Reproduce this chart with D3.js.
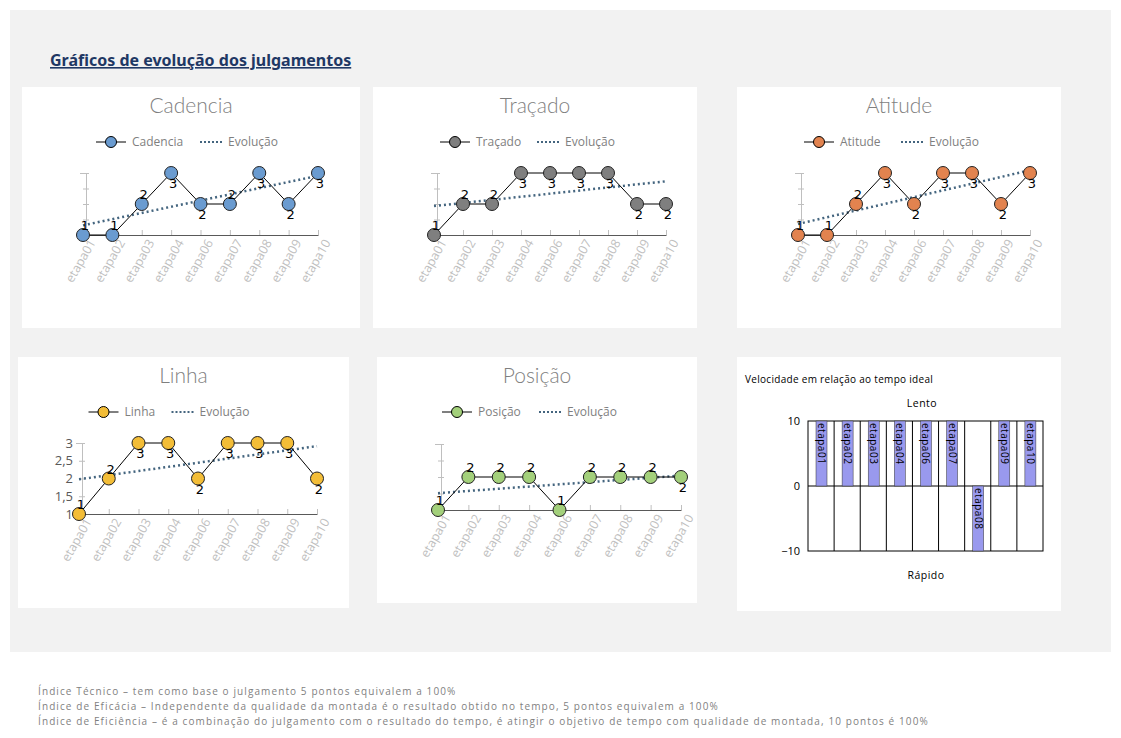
<!DOCTYPE html>
<html><head><meta charset="utf-8">
<script src="https://cdn.jsdelivr.net/npm/d3@7"></script>
<style>
body{margin:0;background:#fff;font-family:"DejaVu Sans",sans-serif;}
</style></head>
<body><svg id="vis" width="1121" height="738"></svg>
<script>
var etapas = ['etapa01','etapa02','etapa03','etapa04','etapa06','etapa07','etapa08','etapa09','etapa10'];
var cadencia = [1,1,2,3,2,2,3,2,3];
var tracado = [1,2,2,3,3,3,3,2,2];
var atitude = [1,1,2,3,2,3,3,2,3];
var linha = [1,2,3,3,2,3,3,3,2];
var posicao = [1,2,2,2,1,2,2,2,2];
var velocidade = [10,10,10,10,10,10,-10,10,10];
var linhaTicks = ['1','1,5','2','2,5','3'];
var footer = [
  'Índice Técnico – tem como base o julgamento 5 pontos equivalem a 100%',
  'Índice de Eficácia – Independente da qualidade da montada é o resultado obtido no tempo, 5 pontos equivalem a 100%',
  'Índice de Eficiência – é a combinação do julgamento com o resultado do tempo, é atingir o objetivo de tempo com qualidade de montada, 10 pontos é 100%'
];

var svg = d3.select('#vis');
svg.append('rect').attr('x',10).attr('y',10).attr('width',1101).attr('height',642).attr('fill','#f2f2f2');
svg.append('text').attr('x',50).attr('y',66).attr('font-size',16).attr('font-weight','bold')
  .attr('fill','#1f3864').attr('text-decoration','underline').attr('font-family','"Noto Sans",sans-serif')
  .text('Gráficos de evolução dos julgamentos');

// Line chart panel with trend line
function lineChart(box, title, data, color, x0, x1, yBase, yTop, showTicks) {
    var g = svg.append('g');
    g.append('rect').attr('x',box[0]).attr('y',box[1]).attr('width',box[2]).attr('height',box[3]).attr('fill','#fff');
    var cx = box[0] + box[2] / 2;
    g.append('text').attr('x',cx).attr('y',box[1]+26).attr('text-anchor','middle')
      .attr('font-size',21).attr('font-family','Lato').attr('font-weight',300).attr('fill','#7f7f7f').text(title);

    // legend
    var lg = g.append('g').attr('transform','translate(' + (cx - 95) + ',' + (box[1]+55) + ')');
    lg.append('line').attr('x1',0).attr('x2',30).attr('y1',0).attr('y2',0).attr('stroke','#000');
    lg.append('circle').attr('cx',15).attr('cy',0).attr('r',5.5).attr('fill',color).attr('stroke','#000');
    lg.append('text').attr('x',36).attr('y',4).attr('font-size',12).attr('fill','#7f7f7f').attr('font-family','"Open Sans"').text(title);
    var tw = title.length * 7 + 48;
    lg.append('line').attr('x1',tw).attr('x2',tw+22).attr('y1',0).attr('y2',0)
      .attr('stroke','#44657f').attr('stroke-width',2).attr('stroke-dasharray','2,2');
    lg.append('text').attr('x',tw+28).attr('y',4).attr('font-size',12).attr('fill','#7f7f7f').attr('font-family','"Open Sans"').text('Evolução');

    var x = d3.scalePoint().domain(etapas).range([x0, x1]);
    var y = d3.scaleLinear().domain([1, 3]).range([yBase, yTop]);

    // axes
    var yAxis = d3.axisLeft(y).tickValues([1,1.5,2,2.5,3]).tickSize(6)
        .tickFormat(function(d, i) { return showTicks ? linhaTicks[i] : ''; });
    var ya = g.append('g').attr('transform','translate(' + (x0 + 3) + ',0)').call(yAxis);
    ya.select('.domain').attr('stroke','#bfbfbf');
    ya.selectAll('line').attr('stroke','#bfbfbf').attr('transform','translate(3,0)');
    ya.selectAll('text').attr('font-size',13).attr('fill','#595959').attr('font-family','"Open Sans"');

    var xAxis = d3.axisBottom(x).tickSize(-5).tickSizeOuter(0);
    var xa = g.append('g').attr('transform','translate(0,' + yBase + ')').call(xAxis);
    xa.select('.domain').attr('stroke','#595959');
    xa.selectAll('line').attr('stroke','#bfbfbf');
    xa.selectAll('text').attr('font-size',12.5).attr('fill','#bfbfbf').attr('font-family','"Open Sans"')
      .attr('text-anchor','end').attr('dy',0).attr('transform','translate(10,6) rotate(-60)');

    // trend line from linear regression of the series
    var n = data.length, sx = 0, sy = 0, sxy = 0, sxx = 0;
    data.forEach(function(v, i) { sx += i; sy += v; sxy += i * v; sxx += i * i; });
    var b = (n * sxy - sx * sy) / (n * sxx - sx * sx), a = (sy - b * sx) / n;
    g.append('line').attr('x1',x(etapas[0])).attr('y1',y(a)).attr('x2',x(etapas[n-1])).attr('y2',y(a + b*(n-1)))
      .attr('stroke','#44657f').attr('stroke-width',2.5).attr('stroke-dasharray','2,3');

    var line = d3.line().x(function(d, i) { return x(etapas[i]); }).y(function(d) { return y(d); });
    g.append('path').datum(data).attr('d',line).attr('fill','none').attr('stroke','#000').attr('stroke-width',1);
    g.selectAll('circle.pt').data(data).enter().append('circle').attr('class','pt')
      .attr('cx',function(d, i) { return x(etapas[i]); }).attr('cy',y).attr('r',6.5)
      .attr('fill',color).attr('stroke','#222');
    g.selectAll('text.lbl').data(data).enter().append('text').attr('class','lbl')
      .attr('x',function(d, i) { return x(etapas[i]) + 2; })
      .attr('y',function(d, i) {
          var prev = i > 0 ? data[i-1] : 0;
          var below = d === 3 || (d > 1 && (prev > d || (i === n - 1 && prev >= d)));
          return below ? y(d) + 15 : y(d) - 5;
      })
      .attr('text-anchor','middle').attr('font-size',13).attr('fill','#000').text(function(d) { return d; });
}

lineChart([22,87,338,241], 'Cadencia', cadencia, '#6a9bd0', 83, 318, 235, 173, false);
lineChart([373,87,324,241], 'Traçado', tracado, '#7f7f7f', 434, 666, 235, 173, false);
lineChart([737,87,324,241], 'Atitude', atitude, '#e2834f', 798, 1030, 235, 173, false);
lineChart([18,357,331,251], 'Linha', linha, '#f3bd37', 79, 317, 514, 443, true);
lineChart([377,357,320,246], 'Posição', posicao, '#a3d07b', 438, 681, 510, 444, false);

// Velocidade bar chart
var vg = svg.append('g');
vg.append('rect').attr('x',737).attr('y',357).attr('width',324).attr('height',254).attr('fill','#fff');
vg.append('text').attr('x',745).attr('y',383).attr('font-size',10).attr('fill','#000').attr('font-family','"Open Sans"')
  .attr('letter-spacing',0.3).text('Velocidade em relação ao tempo ideal');
vg.append('text').attr('x',922).attr('y',407).attr('text-anchor','middle').attr('font-size',10.5).attr('font-family','"Open Sans"').attr('letter-spacing',0.5).text('Lento');
vg.append('text').attr('x',926).attr('y',579).attr('text-anchor','middle').attr('font-size',10.5).attr('font-family','"Open Sans"').attr('letter-spacing',0.5).text('Rápido');

var bx = d3.scaleBand().domain(etapas).range([808, 1043]);
var by = d3.scaleLinear().domain([-10, 10]).range([551, 421]);
var ay = vg.append('g').attr('transform','translate(808,0)')
  .call(d3.axisLeft(by).tickValues([-10,0,10]).tickSize(0).tickPadding(8));
ay.select('.domain').remove();
ay.selectAll('text').attr('font-size',11).attr('font-family','"Open Sans"').attr('fill','#000');
vg.append('rect').attr('x',808).attr('y',by(10)).attr('width',235).attr('height',by(-10)-by(10))
  .attr('fill','none').attr('stroke','#000');
vg.append('line').attr('x1',808).attr('x2',1043).attr('y1',by(0)).attr('y2',by(0)).attr('stroke','#000');
vg.selectAll('line.sep').data(etapas.slice(1)).enter().append('line').attr('class','sep')
  .attr('x1',function(d) { return bx(d); }).attr('x2',function(d) { return bx(d); })
  .attr('y1',by(10)).attr('y2',by(-10)).attr('stroke','#000');
vg.selectAll('rect.bar').data(velocidade).enter().append('rect').attr('class','bar')
  .attr('x',function(d, i) { return bx(etapas[i]) + 8; }).attr('width',11)
  .attr('y',function(d) { return by(Math.max(0, d)); })
  .attr('height',function(d) { return Math.abs(by(d) - by(0)); })
  .attr('fill','#9999ee').attr('stroke','#333').attr('stroke-width',0.5);
vg.selectAll('text.bl').data(velocidade).enter().append('text').attr('class','bl')
  .attr('transform',function(d, i) {
      return 'translate(' + (bx(etapas[i]) + 10) + ',' + (by(d > 0 ? 10 : 0) + 2) + ') rotate(90)';
  })
  .attr('font-size',10).attr('font-family','"Open Sans"').attr('letter-spacing',0.5)
  .text(function(d, i) { return etapas[i]; });

svg.selectAll('text.foot').data(footer).enter().append('text').attr('class','foot')
  .attr('x',38).attr('y',function(d, i) { return 695 + i * 15; })
  .attr('font-size',10).attr('letter-spacing',1.1).attr('fill','#7f7f7f').attr('font-family','"Open Sans"')
  .text(function(d) { return d; });
</script>
</body></html>
